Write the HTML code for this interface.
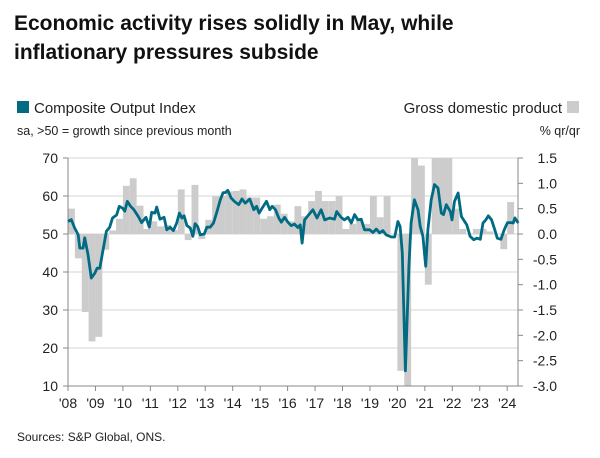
<!DOCTYPE html>
<html><head><meta charset="utf-8"><style>
body{margin:0;background:#fff;width:600px;height:453px;overflow:hidden;font-family:"Liberation Sans",sans-serif;}
svg text{font-family:"Liberation Sans",sans-serif;}
</style></head><body>
<svg id="chart" width="600" height="453" viewBox="0 0 600 453">
<text x="14" y="30" font-size="21" font-weight="bold" fill="#111">Economic activity rises solidly in May, while</text>
<text x="14" y="59" font-size="21" font-weight="bold" fill="#111">inflationary pressures subside</text>
<rect x="17" y="101" width="12" height="12" fill="#006b82"/>
<text x="34" y="113" font-size="15" fill="#222">Composite Output Index</text>
<text x="562" y="113" font-size="15" fill="#222" text-anchor="end">Gross domestic product</text>
<rect x="567" y="101" width="12" height="12" fill="#cccccc"/>
<text x="17" y="135" font-size="12.5" fill="#222">sa, &gt;50 = growth since previous month</text>
<text x="580" y="135" font-size="12.5" fill="#222" text-anchor="end">% qr/qr</text>
<g id="grid"></g><g id="bars"></g><g id="axes"></g><g id="line"></g>
<text x="17" y="441" font-size="12" fill="#222">Sources: S&amp;P Global, ONS.</text>
</svg>
<script>
const pmiDates=[2008.00,2008.12,2008.24,2008.37,2008.43,2008.55,2008.61,2008.73,2008.85,2008.98,2009.06,2009.16,2009.28,2009.40,2009.52,2009.62,2009.77,2009.87,2009.99,2010.07,2010.16,2010.28,2010.40,2010.56,2010.68,2010.84,2010.96,2011.05,2011.17,2011.23,2011.35,2011.50,2011.60,2011.72,2011.84,2011.96,2012.06,2012.15,2012.23,2012.33,2012.45,2012.55,2012.63,2012.72,2012.82,2012.96,2013.06,2013.18,2013.30,2013.43,2013.55,2013.65,2013.73,2013.82,2013.94,2014.06,2014.22,2014.34,2014.46,2014.62,2014.77,2014.87,2014.96,2015.07,2015.23,2015.35,2015.44,2015.56,2015.68,2015.77,2015.89,2016.01,2016.13,2016.25,2016.37,2016.46,2016.53,2016.62,2016.74,2016.92,2017.07,2017.22,2017.35,2017.53,2017.71,2017.79,2017.95,2018.07,2018.20,2018.32,2018.44,2018.56,2018.68,2018.80,2018.99,2019.11,2019.23,2019.35,2019.47,2019.59,2019.78,2019.90,2020.02,2020.10,2020.18,2020.29,2020.42,2020.50,2020.62,2020.75,2020.83,2020.93,2021.03,2021.11,2021.23,2021.35,2021.48,2021.60,2021.68,2021.78,2021.93,2021.99,2022.08,2022.21,2022.33,2022.41,2022.53,2022.65,2022.78,2022.90,2023.02,2023.12,2023.22,2023.31,2023.43,2023.55,2023.64,2023.77,2023.89,2024.01,2024.13,2024.22,2024.28,2024.40];
const pmiValues=[53.3,53.8,51.6,49.8,46.3,46.3,49.0,44.6,38.4,39.7,41.0,41.0,45.9,50.7,51.8,54.2,55.0,57.3,56.8,56.0,58.6,57.3,56.4,54.6,53.0,54.4,51.8,55.7,55.5,57.1,53.9,54.4,51.1,51.8,50.9,52.9,55.5,54.2,54.8,52.2,51.6,49.4,52.7,52.0,49.8,50.0,51.8,51.8,52.9,56.0,59.0,60.9,60.9,61.5,59.5,58.6,57.7,59.2,58.1,59.2,56.4,57.3,55.5,56.8,58.6,56.4,57.3,56.4,54.2,53.1,54.4,53.1,52.2,52.6,51.7,52.4,47.6,53.7,54.8,56.4,54.2,56.4,53.7,54.2,53.9,55.9,54.4,53.7,54.4,52.9,55.1,53.7,53.9,51.1,51.1,50.4,51.3,50.3,50.9,49.8,49.2,49.2,53.3,52.0,45.0,14.0,41.5,52.9,59.0,56.4,52.0,49.4,41.5,51.1,59.0,63.0,62.1,55.5,55.1,57.7,55.9,53.7,58.6,60.8,54.6,53.7,52.4,49.4,48.5,48.9,48.6,52.9,53.7,54.8,53.7,51.1,48.9,48.6,51.1,53.0,53.0,52.9,54.2,52.9];
const gdpValues=[0.5,-0.48,-1.54,-2.12,-2.03,-0.31,0.07,0.3,0.95,1.1,0.56,0.1,0.25,0.15,0.18,0.08,0.88,-0.12,0.97,-0.1,0.28,0.74,0.75,0.84,0.85,0.88,0.72,0.72,0.3,0.35,0.58,0.4,0.25,0.55,0.35,0.65,0.85,0.65,0.65,0.75,0.1,0.2,0.3,0.2,0.75,0.33,0.75,0.0,-2.7,-3.2,1.6,1.35,-1.0,1.6,1.6,1.6,0.5,0.1,0.0,0.1,0.1,0.05,0.0,-0.3,0.63];
const leftTicks=[70,60,50,40,30,20,10];
const rightTicks=["1.5","1.0","0.5","0.0","-0.5","-1.0","-1.5","-2.0","-2.5","-3.0"];
const yearLabels=["'08","'09","'10","'11","'12","'13","'14","'15","'16","'17","'18","'19","'20","'21","'22","'23","'24"];

const NS="http://www.w3.org/2000/svg";
const X0=68,X1=518,YT=158,YB=386,PX_YR=27.45;
const xs=yr=>X0+(yr-2008)*PX_YR;
const yl=v=>YB-(v-10)/60*(YB-YT);
const yr_=v=>yl(50+v*40/3);
function mk(tag,attrs,parent){const e=document.createElementNS(NS,tag);for(const k in attrs)e.setAttribute(k,attrs[k]);parent.appendChild(e);return e;}
const grid=document.getElementById('grid'),bars=document.getElementById('bars'),axes=document.getElementById('axes'),line=document.getElementById('line');
leftTicks.forEach(t=>{
  const y=yl(t);
  if(t!==10){const g=mk('line',{x1:X0,x2:X1,y1:y,y2:y,stroke:'#d6d6d6','stroke-width':1},grid);
  
  }
  mk('line',{x1:X0-5,x2:X0,y1:y,y2:y,stroke:'#888'},axes);
  const tx=mk('text',{x:58,y:y+5,'font-size':14,fill:'#222','text-anchor':'end'},axes);tx.textContent=t;
  
  
});
rightTicks.forEach(t=>{
  const y=yr_(parseFloat(t));
  mk('line',{x1:X1,x2:X1+5,y1:y,y2:y,stroke:'#888'},axes);
  const tx=mk('text',{x:557,y:y+5,'font-size':14,fill:'#222','text-anchor':'end'},axes);tx.textContent=t;
  
  
});
const qw=PX_YR/4;
gdpValues.forEach((v,i)=>{
  const x=X0+i*qw;
  const vc=Math.max(-3,Math.min(1.5,v));
  const y0=yr_(0),y1=yr_(vc);
  const r=mk('rect',{x:x,y:Math.min(y0,y1),width:qw,height:Math.abs(y1-y0),fill:'#cccccc'},bars);
  
  
});
[['left-axis',X0],['right-axis',X1]].forEach(([n,x])=>{const a=mk('line',{x1:x,x2:x,y1:YT,y2:YB,stroke:'#888'},axes);

});
const xa=mk('line',{x1:X0,x2:X1,y1:YB,y2:YB,stroke:'#888'},axes);


yearLabels.forEach((l,i)=>{
  const x=xs(2008+i);
  mk('line',{x1:x,x2:x,y1:YB,y2:YB+5,stroke:'#888'},axes);
  const tx=mk('text',{x:x,y:YB+22,'font-size':14,fill:'#222','text-anchor':'middle'},axes);tx.textContent=l;
  
  
});
const p=mk('polyline',{points:pmiDates.map((d,i)=>xs(d).toFixed(1)+','+yl(pmiValues[i]).toFixed(1)).join(' '),fill:'none',stroke:'#006b82','stroke-width':2.8,'stroke-linejoin':'round'},line);


</script>
</body></html>
